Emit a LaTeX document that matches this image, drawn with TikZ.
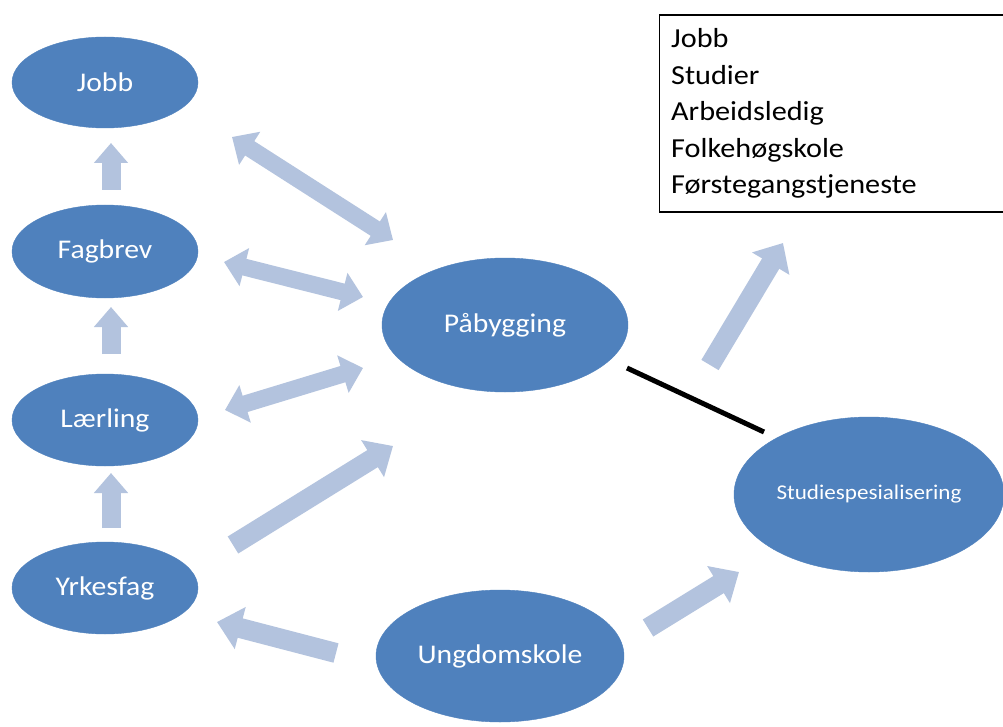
\documentclass[tikz,border=0pt]{standalone}
\usepackage{fontspec}
\setmainfont{Carlito}[FakeStretch=1.1]
\usetikzlibrary{shapes.geometric,arrows.meta}
\definecolor{ellblue}{HTML}{4F81BD}
\definecolor{arrowcol}{HTML}{B3C3DE}
\tikzset{
  bubble/.style={ellipse, fill=ellblue, draw=ellblue, inner sep=0pt, text=white, font=\fontsize{27}{30}\selectfont},
  fatdouble/.style={draw=arrowcol, line width=17pt, line cap=butt, {Triangle[length=21pt,width=38pt]}-{Triangle[length=21pt,width=38pt]}},
  fatsingle/.style={draw=arrowcol, line width=20pt, line cap=butt, -{Triangle[length=24pt,width=42pt]}},
  fatup/.style={draw=arrowcol, line width=19pt, line cap=butt, -{Triangle[length=20pt,width=33pt]}},
  listline/.style={anchor=base west, inner sep=0pt, font=\fontsize{27.5}{30}\selectfont},
}
\begin{document}
\begin{tikzpicture}[x=1pt,y=-1pt]
\useasboundingbox (0,0) rectangle (1003,727);
\fill[white] (0,0) rectangle (1003,727);

% ellipses
\node[bubble, minimum width=186pt, minimum height=91pt] (jobb) at (105,82.5) {Jobb};
\node[bubble, minimum width=186pt, minimum height=93pt] (fagbrev) at (105,251.5) {Fagbrev};
\node[bubble, minimum width=186pt, minimum height=92pt] (laerling) at (105,420) {Lærling};
\node[bubble, minimum width=186pt, minimum height=92pt] (yrkesfag) at (105,588) {Yrkesfag};
\node[bubble, minimum width=246pt, minimum height=134pt] (pab) at (505,325) {Påbygging};
\node[bubble, minimum width=270pt, minimum height=155pt, font=\fontsize{21}{24}\selectfont] (stud) at (869,494.5) {Studiespesialisering};
\node[bubble, minimum width=248pt, minimum height=132pt] (ungdom) at (500,656) {Ungdomskole};

% box with outcomes
\node[draw=black, line width=1.3pt, anchor=north west, minimum width=350pt, minimum height=197pt, inner sep=0pt] (box) at (658.5,14.5) {};
\node[listline] (l1) at (671,48) {Jobb};
\node[listline] (l2) at (671,84.5) {Studier};
\node[listline] (l3) at (671,121) {Arbeidsledig};
\node[listline] (l4) at (671,157.5) {Folkehøgskole};
\node[listline] (l5) at (671,194) {Førstegangstjeneste};

% arrow end points
\coordinate (u1a) at (111,190); \coordinate (u1b) at (111,143);
\coordinate (u2a) at (111,354); \coordinate (u2b) at (111,307);
\coordinate (u3a) at (111,528); \coordinate (u3b) at (111,473);
\coordinate (d1a) at (232,137); \coordinate (d1b) at (393,240);
\coordinate (d2a) at (224,262); \coordinate (d2b) at (363,297);
\coordinate (d3a) at (225,410); \coordinate (d3b) at (363,368);
\coordinate (s1a) at (233,545); \coordinate (s1b) at (393,446);
\coordinate (s2a) at (336,653); \coordinate (s2b) at (217,622);
\coordinate (s3a) at (648,628); \coordinate (s3b) at (739,572);
\coordinate (s4a) at (710,365); \coordinate (s4b) at (783,243);
\coordinate (la) at (627,368); \coordinate (lb) at (764,432);

\draw[fatup] (u1a) -- (u1b);
\draw[fatup] (u2a) -- (u2b);
\draw[fatup] (u3a) -- (u3b);
\draw[fatdouble] (d1a) -- (d1b);
\draw[fatdouble] (d2a) -- (d2b);
\draw[fatdouble] (d3a) -- (d3b);
\draw[fatsingle] (s1a) -- (s1b);
\draw[fatsingle] (s2a) -- (s2b);
\draw[fatsingle] (s3a) -- (s3b);
\draw[fatsingle] (s4a) -- (s4b);
\draw[black, line width=5pt] (la) -- (lb);
\end{tikzpicture}
\end{document}
